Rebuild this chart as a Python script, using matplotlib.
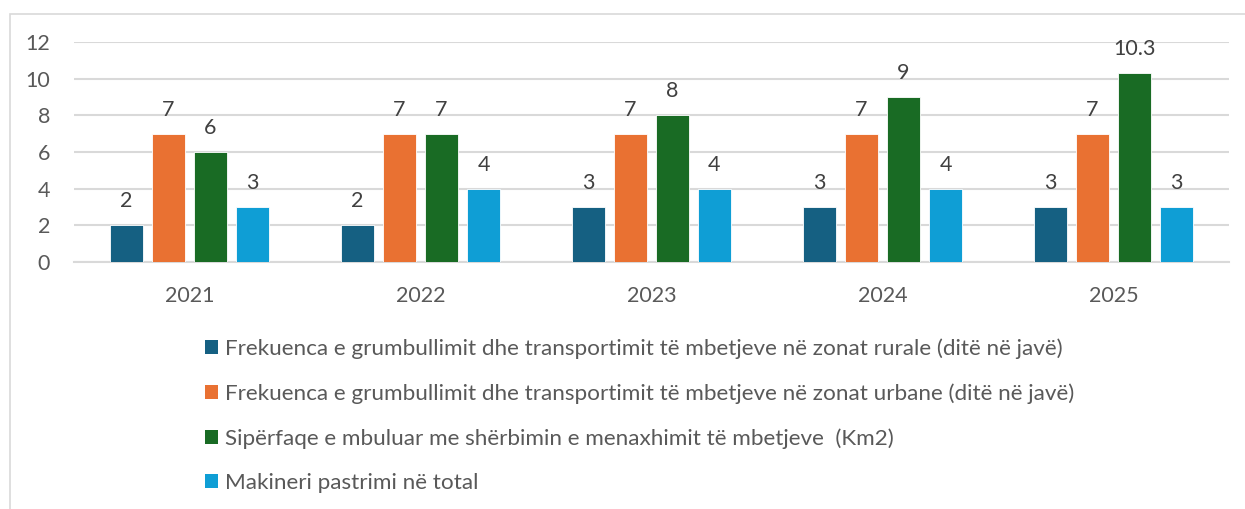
import matplotlib
matplotlib.use("Agg")
import matplotlib.pyplot as plt
from matplotlib.patches import Rectangle, Patch
import numpy as np

years = ["2021", "2022", "2023", "2024", "2025"]
rural = [2, 2, 3, 3, 3]
urban = [7, 7, 7, 7, 7]
area = [6, 7, 8, 9, 10.3]
machines = [3, 4, 4, 4, 3]
series_labels = [
    "Frekuenca e grumbullimit dhe transportimit të mbetjeve në zonat rurale (ditë në javë)",
    "Frekuenca e grumbullimit dhe transportimit të mbetjeve në zonat urbane (ditë në javë)",
    "Sipërfaqe e mbuluar me shërbimin e menaxhimit të mbetjeve  (Km2)",
    "Makineri pastrimi në total",
]
colors = ["#156082", "#E97132", "#196B24", "#0F9ED5"]

plt.rcParams['font.family'] = ['Lato', 'DejaVu Sans']

W, H = 1245, 509
fig = plt.figure(figsize=(W / 100, H / 100), dpi=100)

# outer frame
fig.patches.append(Rectangle((10 / W, -0.05), 1.2, 1 - 14 / H + 0.05, transform=fig.transFigure,
                             fill=False, edgecolor="#d9d9d9", linewidth=1.2))

ax = fig.add_axes([74 / W, 1 - 262 / H, 1155 / W, 220 / H])
x = np.arange(len(years))
pitch = 42 / 231
width = 33 / 231
data = [rural, urban, area, machines]
for i, (vals, c, lab) in enumerate(zip(data, colors, series_labels)):
    pos = x + (i - 1.5) * pitch
    bars = ax.bar(pos, vals, width, color=c, edgecolor="white", linewidth=0.6, label=lab, zorder=3)
    for b, v in zip(bars, vals):
        ax.annotate(f"{v:g}", (b.get_x() + b.get_width() / 2, v), xytext=(0, 17.3),
                    textcoords="offset points", ha="center", va="center",
                    fontsize=15.5, color="#404040")

ax.set_xlim(-0.5, len(years) - 0.5)
ax.set_ylim(0, 12)
ax.set_yticks(range(0, 13, 2))
ax.set_xticks(x)
ax.set_xticklabels(years)
ax.yaxis.grid(True, color="#d9d9d9", linewidth=1.5, zorder=0)
ax.set_axisbelow(True)
for s in ["top", "right", "left"]:
    ax.spines[s].set_visible(False)
ax.spines["bottom"].set_color("#d9d9d9")
ax.spines["bottom"].set_linewidth(1.5)
ax.tick_params(axis="both", length=0, labelsize=15.5, labelcolor="#595959")
ax.tick_params(axis="y", pad=17.3)
ax.tick_params(axis="x", pad=17)

handles = [Patch(facecolor=c, edgecolor="none") for c in colors]
leg = fig.legend(handles, series_labels, loc="upper left", bbox_to_anchor=(196 / W, 1 - 329 / H),
                 frameon=False, fontsize=16.2, labelcolor="#595959", labelspacing=1.09,
                 handlelength=0.57, handleheight=0.57, handletextpad=0.31, borderaxespad=0)

fig.savefig("out.png", dpi=100, facecolor="white")
